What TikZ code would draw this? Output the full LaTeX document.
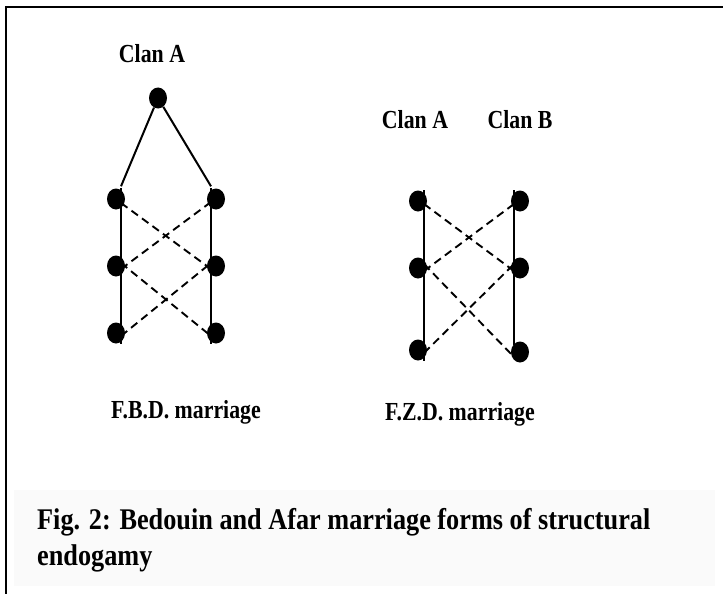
\documentclass[tikz,border=0pt]{standalone}
\usepackage{fontspec}
\setmainfont{Liberation Serif}
\newfontfamily\labfont[FakeStretch=0.84]{Liberation Serif}
\newfontfamily\capfont[FakeStretch=0.875]{Liberation Serif}
\usetikzlibrary{shapes.geometric}
\tikzset{
  dot/.style={ellipse,fill=black,draw=none,minimum width=18pt,minimum height=21pt,inner sep=0pt},
  kin/.style={line width=2pt},
  cross/.style={line width=1.9pt,dash pattern=on 8pt off 5pt},
  lab/.style={font=\labfont\fontsize{26}{30}\selectfont\bfseries,inner sep=0pt,anchor=base},
}
\begin{document}
\begin{tikzpicture}[x=1pt,y=-1pt]
\useasboundingbox (0,0) rectangle (723,594);
\fill[white] (0,0) rectangle (723,594);
\fill[black!2] (14,490) rectangle (715,586);
\draw[line width=2.5pt] (6,594) -- (6,7) -- (723,7);

% left diagram (F.B.D.)
\node[lab] (clanL) at (152,63) {Clan A};
\node[dot] (t) at (158,98) {};
\node[dot] (l1) at (116,199) {};
\node[dot] (l2) at (116,266) {};
\node[dot] (l3) at (116,333) {};
\node[dot] (r1) at (216,199) {};
\node[dot] (r2) at (216,266) {};
\node[dot] (r3) at (216,333) {};
\draw[kin] (t) -- ([xshift=5pt,yshift=2pt]l1.north);
\draw[kin] (t) -- ([xshift=-5pt,yshift=2pt]r1.north);
\draw[kin] ([xshift=5pt]l1.north) -- ([xshift=5pt]l3.south);
\draw[kin] ([xshift=-5pt]r1.north) -- ([xshift=-5pt]r3.south);
\draw[cross] ([xshift=5pt,yshift=-4pt]l1.center) -- ([xshift=-5pt,yshift=-3pt]r2.center);
\draw[cross] ([xshift=5pt,yshift=-3pt]l2.center) -- ([xshift=-5pt,yshift=-3pt]r1.center);
\draw[cross] ([xshift=5pt,yshift=3pt]l2.center) -- ([xshift=-5pt,yshift=-3pt]r3.center);
\draw[cross] ([xshift=5pt,yshift=-3pt]l3.center) -- ([xshift=-5pt,yshift=3pt]r2.center);
\node[lab] (fbd) at (186,418) {F.B.D. marriage};

% right diagram (F.Z.D.)
\node[lab] (clanA) at (415,128) {Clan A};
\node[lab] (clanB) at (520,128) {Clan B};
\node[dot] (a1) at (418,201) {};
\node[dot] (a2) at (418,268) {};
\node[dot] (a3) at (418,350) {};
\node[dot] (b1) at (520,201) {};
\node[dot] (b2) at (520,268) {};
\node[dot] (b3) at (520,352) {};
\draw[kin] ([xshift=6pt]a1.north) -- ([xshift=6pt]a3.south);
\draw[kin] ([xshift=-6pt]b1.north) -- ([xshift=-6pt,yshift=-4pt]b3.north);
\draw[cross] ([xshift=6pt,yshift=-3pt]a1.center) -- ([xshift=-6pt,yshift=-3pt]b2.center);
\draw[cross] ([xshift=6pt,yshift=-3pt]a2.center) -- ([xshift=-6pt,yshift=-3pt]b1.center);
\draw[cross] ([xshift=6pt,yshift=4pt]a2.center) -- ([xshift=-6pt,yshift=-5pt]b3.center);
\draw[cross] ([xshift=6pt,yshift=-3pt]a3.center) -- ([xshift=-6pt,yshift=4pt]b2.center);
\node[lab] (fzd) at (460,420) {F.Z.D. marriage};

% caption
\node[anchor=north west,inner sep=0pt,align=left,
      font=\capfont\fontsize{30}{36}\selectfont\bfseries] (cap) at (37,508)
  {Fig. 2: Bedouin and Afar marriage forms of structural\\endogamy};
\end{tikzpicture}
\end{document}
